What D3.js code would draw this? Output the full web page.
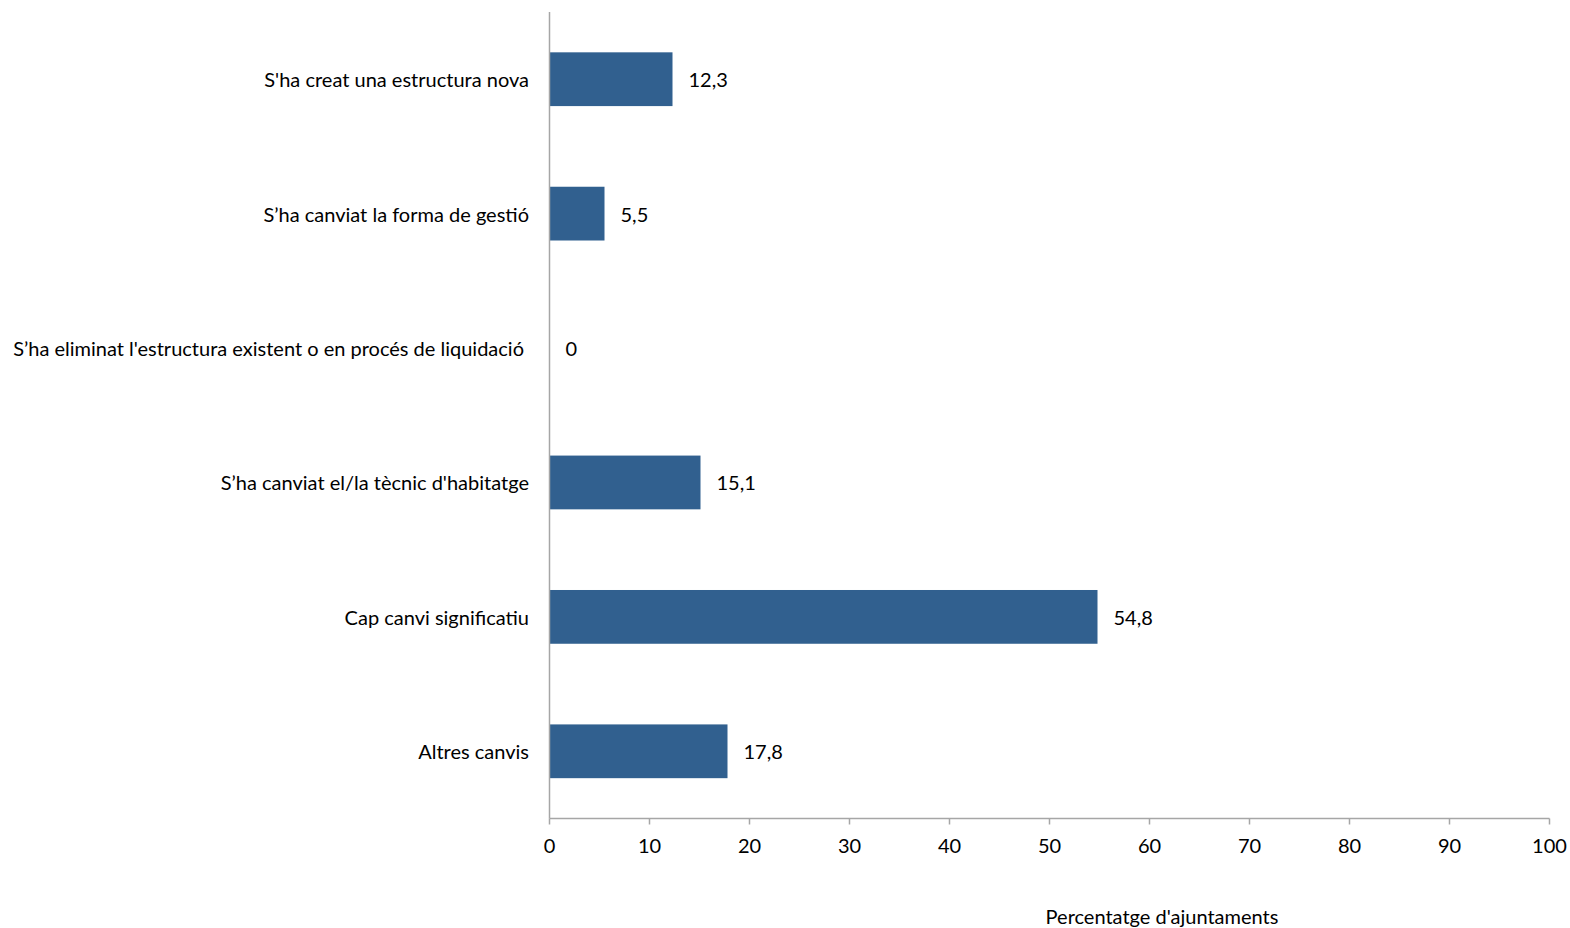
<!DOCTYPE html>
<html><head><meta charset="utf-8">
<script src="https://cdn.jsdelivr.net/npm/d3@7"></script>
<style>body{margin:0;background:#fff}svg{display:block}text{font-family:Lato,"Open Sans",sans-serif;fill:#000}</style>
</head><body>
<svg id="c" width="1570" height="928"></svg>
<script>
const categories = ["S'ha creat una estructura nova","S’ha canviat la forma de gestió","S’ha eliminat l'estructura existent o en procés de liquidació","S’ha canviat el/la tècnic d'habitatge","Cap canvi significatiu","Altres canvis"];
const values = [12.3, 5.5, 0, 15.1, 54.8, 17.8];
const valueLabels = ["12,3","5,5","0","15,1","54,8","17,8"];
const xTicks = [0,10,20,30,40,50,60,70,80,90,100];
const axisTitle = "Percentatge d'ajuntaments";

const svg = d3.select("#c");
const x = d3.scaleLinear().domain([0,100]).range([549.5,1549.5]);
const y = d3.scaleBand().domain(categories).range([12,818.5]).paddingInner(0.6).paddingOuter(0.3);
const fs = 20;

svg.selectAll("rect.bar").data(values).enter().append("rect")
  .attr("x", x(0)).attr("y",(d,i)=>y(categories[i]))
  .attr("width", d=>x(d)-x(0)).attr("height", y.bandwidth())
  .attr("fill","#31608f");

// x axis
const gx = svg.append("g").attr("transform","translate(0,818.5)");
gx.append("line").attr("x1",x(0)).attr("x2",x(100)).attr("stroke","#a6a6a6").attr("stroke-width",1.5);
gx.selectAll("line.t").data(xTicks).enter().append("line")
  .attr("x1",d=>x(d)).attr("x2",d=>x(d)).attr("y1",0).attr("y2",6).attr("stroke","#a6a6a6").attr("stroke-width",1.5);
gx.selectAll("text").data(xTicks).enter().append("text")
  .attr("x",d=>x(d)).attr("y",34.5).attr("text-anchor","middle").attr("font-size",fs).text(d=>d);

// y axis line
svg.append("line").attr("x1",x(0)).attr("x2",x(0)).attr("y1",12).attr("y2",818.5).attr("stroke","#a6a6a6").attr("stroke-width",1.5);

// category labels
svg.selectAll("text.cat").data(categories).enter().append("text")
  .attr("class","cat")
  .attr("x",(d,i)=> i===2 ? 524 : 529)
  .attr("y",d=>y(d)+y.bandwidth()/2+1).attr("dy","0.35em")
  .attr("text-anchor","end").attr("font-size",fs).text(d=>d);

// value labels
svg.selectAll("text.val").data(values).enter().append("text")
  .attr("x",d=>x(d)+16).attr("y",(d,i)=>y(categories[i])+y.bandwidth()/2+1).attr("dy","0.35em")
  .attr("font-size",fs).text((d,i)=>valueLabels[i]);

svg.append("text").attr("x",1162).attr("y",923.5).attr("text-anchor","middle").attr("font-size",fs).text(axisTitle);
</script>
</body></html>
